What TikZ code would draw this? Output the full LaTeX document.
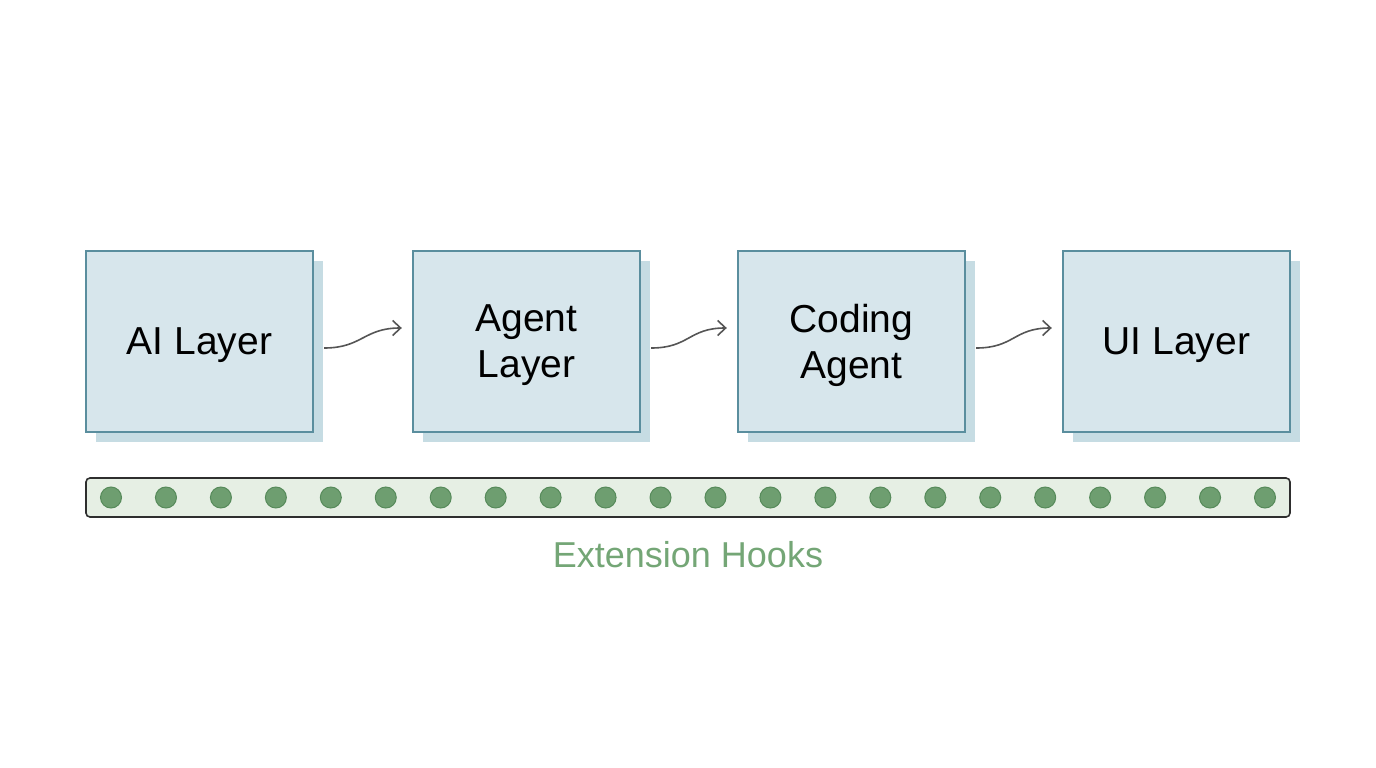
\documentclass[tikz,border=0pt]{standalone}
\usepackage{fontspec}
\setmainfont{Liberation Sans}
\usetikzlibrary{arrows.meta}
\definecolor{boxfill}{HTML}{D7E6EC}
\definecolor{boxedge}{HTML}{5A8E9E}
\definecolor{boxshadow}{HTML}{C6DCE3}
\definecolor{arrowc}{HTML}{555555}
\definecolor{barfill}{HTML}{E6EFE4}
\definecolor{baredge}{HTML}{2E2E2E}
\definecolor{dotfill}{HTML}{6E9E70}
\definecolor{dotedge}{HTML}{568A5A}
\definecolor{hooktext}{HTML}{74A676}
\begin{document}
\begin{tikzpicture}[x=1pt,y=-1pt,
  layer/.style={draw=boxedge, fill=boxfill, line width=2.4pt, minimum width=227pt, minimum height=181pt, inner sep=0pt, align=center, text depth=0pt, font=\fontsize{39}{46}\selectfont, text=black},
  shadowbox/.style={fill=boxshadow, minimum width=227pt, minimum height=181pt, inner sep=0pt},
  flow/.style={draw=arrowc, line width=1.6pt, -{Straight Barb[length=8pt,width=15pt,line width=1.6pt]}},
  hook/.style={circle, fill=dotfill, draw=dotedge, line width=1pt, minimum size=21pt, inner sep=0pt}]
\useasboundingbox (0,0) rectangle (1376,768);
% shadows
\foreach \x/\n in {199.5/1, 526.5/2, 851.5/3, 1176.5/4}
  \node[shadowbox] (s\n) at (\x+10,351.5) {};
% boxes
\node[layer] (b1) at (199.5,341.5) {AI Layer};
\node[layer] (b2) at (526.5,341.5) {Agent\\Layer};
\node[layer] (b3) at (851.5,341.5) {Coding\\Agent};
\node[layer] (b4) at (1176.5,341.5) {UI Layer};
% arrows
\draw[flow] ([xshift=10pt,yshift=-6.5pt]b1.east) .. controls +(38,0) and +(-38,0) .. ([xshift=-10pt,yshift=13.5pt]b2.west);
\draw[flow] ([xshift=10pt,yshift=-6.5pt]b2.east) .. controls +(38,0) and +(-38,0) .. ([xshift=-10pt,yshift=13.5pt]b3.west);
\draw[flow] ([xshift=10pt,yshift=-6.5pt]b3.east) .. controls +(38,0) and +(-38,0) .. ([xshift=-10pt,yshift=13.5pt]b4.west);
% hooks bar
\node[draw=baredge, fill=barfill, line width=1.6pt, rounded corners=4pt, minimum width=1204pt, minimum height=39pt, inner sep=0pt] (bar) at (688,497.5) {};
\foreach \i in {0,...,21}
  \node[hook] (h\i) at (111+\i*54.952,497.5) {};
\node[text=hooktext, font=\fontsize{36}{42}\selectfont] (lbl) at (688,555) {Extension Hooks};
\end{tikzpicture}
\end{document}
